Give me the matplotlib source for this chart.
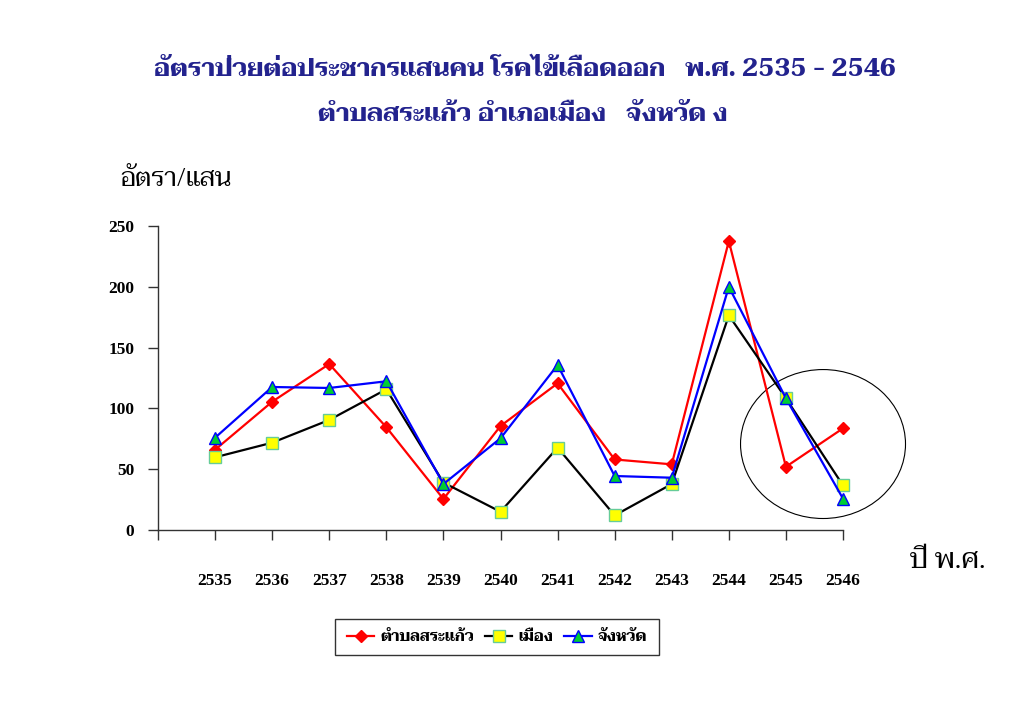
import matplotlib
matplotlib.use("Agg")
import matplotlib.pyplot as plt
from matplotlib import font_manager as fm
from matplotlib.patches import Ellipse
from matplotlib.lines import Line2D

years = [2535, 2536, 2537, 2538, 2539, 2540, 2541, 2542, 2543, 2544, 2545, 2546]
tambon = [66, 105.5, 136.5, 84.5, 25.5, 85.5, 120.6, 58, 54, 237.6, 52, 83.6]
mueang = [59.8, 71.8, 90.5, 115.7, 39, 15, 67.7, 12, 37.8, 176.5, 108.3, 36.7]
changwat = [75.9, 117.6, 116.8, 122.3, 37.8, 75.4, 135.7, 44.4, 43, 200, 108.3, 25.8]
series_names = ["ตำบลสระแก้ว", "เมือง", "จังหวัด"]
yticks = [0, 50, 100, 150, 200, 250]
title1 = "อัตราป่วยต่อประชากรแสนคน โรคไข้เลือดออก   พ.ศ. 2535 - 2546"
title2 = "ตำบลสระแก้ว อำเภอเมือง   จังหวัด ง"
ylabel = "อัตรา/แสน"
xlabel = "ปี พ.ศ."

avail = {f.name for f in fm.fontManager.ttflist}
thai = next((n for n in ["Taviraj", "Trirong", "Sarabun", "Pridi", "Charmonman", "Athiti"] if n in avail), "DejaVu Sans")
TF = [thai, "DejaVu Sans"]
serif = "Liberation Serif"

fig = plt.figure(figsize=(10.23, 7.08), dpi=100)
ax = fig.add_axes([158/1023, 1-530/708, (843-158)/1023, (530-226)/708])

ax.plot(years, tambon, color="#FF0000", lw=1.6, marker="D", ms=6.5, mfc="#FF0000", mec="#FF0000",
        label=series_names[0], zorder=3, clip_on=False)
ax.plot(years, mueang, color="#000000", lw=1.6, marker="s", ms=8, mfc="#FFFF00", mec="#66CC99", mew=1,
        label=series_names[1], zorder=3, clip_on=False)
ax.plot(years, changwat, color="#0000FF", lw=1.6, marker="^", ms=9, mfc="#00CC33", mec="#0000FF", mew=1,
        label=series_names[2], zorder=3, clip_on=False)

ax.set_xlim(2534, 2546)
ax.set_ylim(0, 250)
ax.set_xticks([2534] + years)
ax.set_xticklabels([""] + [str(y) for y in years], fontfamily=serif, fontweight="bold", fontsize=12.5)
ax.set_yticks(yticks)
ax.set_yticklabels([str(v) for v in yticks], fontfamily=serif, fontweight="bold", fontsize=12.5)
ax.tick_params(axis="x", direction="out", length=7, width=1, pad=24, color="#333333")
ax.tick_params(axis="y", direction="out", length=7, width=1, pad=10, color="#333333")
for s in ["top", "right"]:
    ax.spines[s].set_visible(False)
for s in ["left", "bottom"]:
    ax.spines[s].set_color("#333333")
    ax.spines[s].set_linewidth(1)

ell = Ellipse((2545.65, 70.7), 2.89, 122.5, fill=False, edgecolor="black", lw=0.8, clip_on=False)
ax.add_patch(ell)

fig.text(525/1023, 1-70/708, title1, ha="center", va="center", family=TF, fontweight="bold", fontsize=18, color="#23238E")
fig.text(523/1023, 1-115/708, title2, ha="center", va="center", family=TF, fontweight="bold", fontsize=18, color="#23238E")
fig.text(120/1023, 1-180/708, ylabel, ha="left", va="center", family=TF, fontsize=18.5, color="black")
fig.text(910/1023, 1-562/708, xlabel, ha="left", va="center", family=TF, fontsize=20, color="black")

handles = [
    Line2D([], [], color="#FF0000", lw=1.6, marker="D", ms=6.5, mfc="#FF0000", mec="#FF0000"),
    Line2D([], [], color="#000000", lw=1.6, marker="s", ms=8, mfc="#FFFF00", mec="#66CC99"),
    Line2D([], [], color="#0000FF", lw=1.6, marker="^", ms=9, mfc="#00CC33", mec="#0000FF"),
]
leg = fig.legend(handles, series_names, loc="center", bbox_to_anchor=(497/1023, 1-637/708), ncol=3,
                 prop={"family": TF, "weight": "bold", "size": 11}, frameon=True, fancybox=False,
                 edgecolor="black", handlelength=1.8, handletextpad=0.4, columnspacing=0.7, borderpad=0.75)
leg.get_frame().set_linewidth(1)

fig.savefig("out.png", dpi=100)
